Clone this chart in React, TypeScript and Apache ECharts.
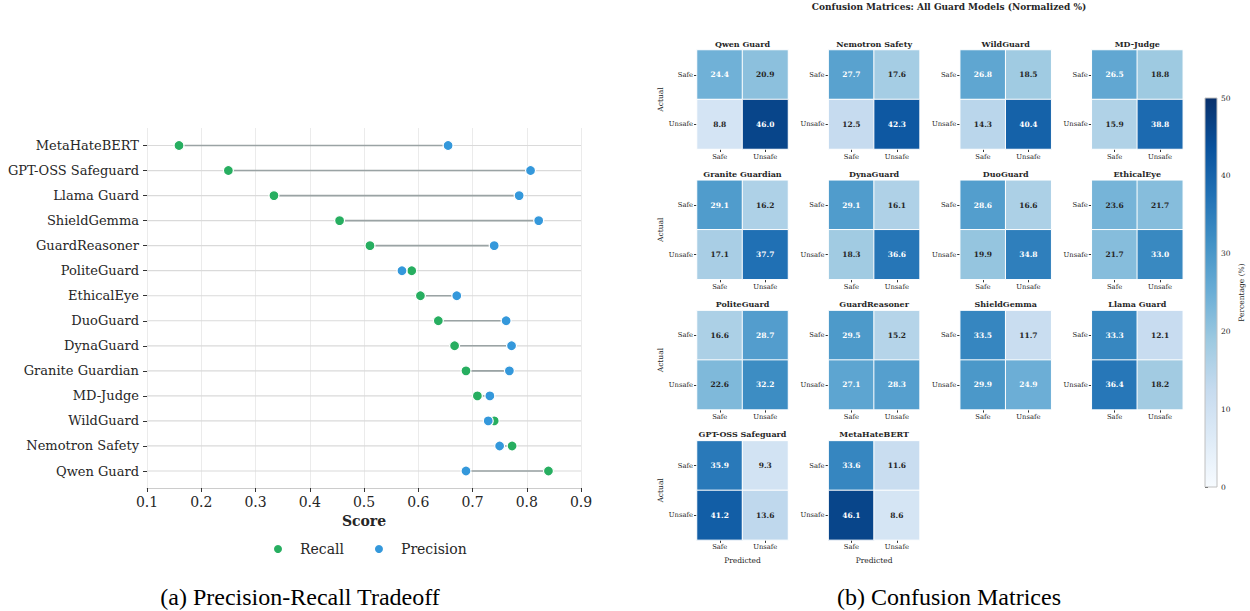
import React, { useEffect, useRef } from "react";
import * as echarts from "echarts";

// ---------- Left panel: precision / recall per model (top to bottom) ----------
const models = [
  "MetaHateBERT",
  "GPT-OSS Safeguard",
  "Llama Guard",
  "ShieldGemma",
  "GuardReasoner",
  "PoliteGuard",
  "EthicalEye",
  "DuoGuard",
  "DynaGuard",
  "Granite Guardian",
  "MD-Judge",
  "WildGuard",
  "Nemotron Safety",
  "Qwen Guard",
];
const recall = [0.159, 0.25, 0.334, 0.455, 0.511, 0.588, 0.604, 0.637, 0.667, 0.688, 0.709, 0.74, 0.773, 0.84];
const precision = [0.655, 0.807, 0.786, 0.822, 0.74, 0.57, 0.671, 0.762, 0.772, 0.768, 0.732, 0.729, 0.75, 0.688];
const scoreMin = 0.1;
const scoreMax = 0.9;
const scoreStep = 0.1;

// ---------- Right panel: confusion matrices (normalized %) ----------
const cmModels = [
  "Qwen Guard",
  "Nemotron Safety",
  "WildGuard",
  "MD-Judge",
  "Granite Guardian",
  "DynaGuard",
  "DuoGuard",
  "EthicalEye",
  "PoliteGuard",
  "GuardReasoner",
  "ShieldGemma",
  "Llama Guard",
  "GPT-OSS Safeguard",
  "MetaHateBERT",
];
// rows: Actual, columns: Predicted
const safeAsSafe = [24.4, 27.7, 26.8, 26.5, 29.1, 29.1, 28.6, 23.6, 16.6, 29.5, 33.5, 33.3, 35.9, 33.6];
const safeAsUnsafe = [20.9, 17.6, 18.5, 18.8, 16.2, 16.1, 16.6, 21.7, 28.7, 15.2, 11.7, 12.1, 9.3, 11.6];
const unsafeAsSafe = [8.8, 12.5, 14.3, 15.9, 17.1, 18.3, 19.9, 21.7, 22.6, 27.1, 29.9, 36.4, 41.2, 46.1];
const unsafeAsUnsafe = [46.0, 42.3, 40.4, 38.8, 37.7, 36.6, 34.8, 33.0, 32.2, 28.3, 24.9, 18.2, 13.6, 8.6];
const classLabels = ["Safe", "Unsafe"];
const colorbarMin = 0;
const colorbarMax = 50;
const colorbarStep = 10;

const BLUES = ["#f7fbff", "#deebf7", "#c6dbef", "#9ecae1", "#6baed6", "#4292c6", "#2171b5", "#08519c", "#08306b"];
const SERIF = "DejaVu Serif";
const TXT = "#262626";

export default function App() {
  const ref = useRef<HTMLDivElement>(null);

  useEffect(() => {
    if (!ref.current) return;
    const chart = echarts.init(ref.current, undefined, { renderer: "svg" });

    const W = 1250;
    // left panel geometry
    const plotLeft = 147;
    const plotRight = 581;
    const rowTop = 145.5;
    const rowBottom = 471;
    const band = (rowBottom - rowTop) / (models.length - 1);

    const grids: any[] = [
      { left: plotLeft, right: W - plotRight, top: rowTop - band / 2, height: band * models.length },
      { left: plotLeft, right: W - plotRight, top: 128, height: 360 },
    ];
    const xAxes: any[] = [
      { gridIndex: 0, type: "value", min: scoreMin, max: scoreMax, show: false },
      {
        gridIndex: 1,
        type: "value",
        min: scoreMin,
        max: scoreMax,
        interval: scoreStep,
        axisLine: { show: true, lineStyle: { color: "#cccccc", width: 1.2 } },
        axisTick: { show: true, length: 4, lineStyle: { color: "#333" } },
        splitLine: { show: true, lineStyle: { color: "#ebebeb", width: 1 } },
        axisLabel: {
          formatter: (v: number) => v.toFixed(1),
          fontFamily: SERIF,
          fontSize: 14,
          color: TXT,
          margin: 7,
        },
        name: "Score",
        nameLocation: "middle",
        nameGap: 23,
        nameTextStyle: { fontFamily: SERIF, fontSize: 14, fontWeight: "bold", color: TXT },
      },
    ];
    const yAxes: any[] = [
      {
        gridIndex: 0,
        type: "category",
        data: models,
        inverse: true,
        axisLine: { show: false },
        axisTick: { show: true, alignWithLabel: true, length: 4, lineStyle: { color: "#333" } },
        axisLabel: { fontFamily: SERIF, fontSize: 13, color: TXT, margin: 8 },
        splitLine: { show: false },
      },
      { gridIndex: 1, type: "value", min: 0, max: 1, show: false },
    ];

    const series: any[] = [
      {
        type: "custom",
        name: "ranges",
        xAxisIndex: 0,
        yAxisIndex: 0,
        silent: true,
        z: 1,
        encode: { x: [1, 2], y: 0 },
        data: models.map((_, i) => [i, recall[i], precision[i]]),
        renderItem: (_p: any, api: any) => {
          const y = api.value(0);
          const a = api.coord([scoreMin, y]);
          const b = api.coord([scoreMax, y]);
          const r = api.coord([api.value(1), y]);
          const p = api.coord([api.value(2), y]);
          return {
            type: "group",
            children: [
              { type: "line", shape: { x1: a[0], y1: a[1], x2: b[0], y2: b[1] }, style: { stroke: "#dadada", lineWidth: 1.2 } },
              { type: "line", shape: { x1: r[0], y1: r[1], x2: p[0], y2: p[1] }, style: { stroke: "#9aa3a4", lineWidth: 1.6 } },
            ],
          };
        },
      },
      {
        type: "scatter",
        name: "Recall",
        xAxisIndex: 0,
        yAxisIndex: 0,
        z: 3,
        symbolSize: 10,
        itemStyle: { color: "#27ae60", borderColor: "#fff", borderWidth: 1.2, opacity: 1 },
        data: models.map((_, i) => [recall[i], i]),
      },
      {
        type: "scatter",
        name: "Precision",
        xAxisIndex: 0,
        yAxisIndex: 0,
        z: 4,
        symbolSize: 10,
        itemStyle: { color: "#3498db", borderColor: "#fff", borderWidth: 1.2, opacity: 1 },
        data: models.map((_, i) => [precision[i], i]),
      },
    ];

    // right panel geometry
    const cmLeft0 = 697;
    const cmColStep = 131.6;
    const cmTop0 = 50;
    const cmRowStep = 130.3;
    const cmW = 91;
    const cmH = 99;
    const heatIdx: number[] = [];
    const graphics: any[] = [];

    cmModels.forEach((name, k) => {
      const col = k % 4;
      const row = Math.floor(k / 4);
      const left = cmLeft0 + col * cmColStep;
      const top = cmTop0 + row * cmRowStep;
      const gi = grids.length;
      grids.push({ left, top, width: cmW, height: cmH });
      xAxes.push({
        gridIndex: gi,
        type: "category",
        data: classLabels,
        axisLine: { show: false },
        axisTick: { show: true, alignWithLabel: true, length: 3, lineStyle: { color: "#333" } },
        axisLabel: { fontFamily: SERIF, fontSize: 6.8, color: TXT, margin: 4 },
        splitLine: { show: false },
        name: k >= 12 ? "Predicted" : "",
        nameLocation: "middle",
        nameGap: 17,
        nameTextStyle: { fontFamily: SERIF, fontSize: 7.5, color: TXT },
      });
      yAxes.push({
        gridIndex: gi,
        type: "category",
        data: classLabels,
        inverse: true,
        axisLine: { show: false },
        axisTick: { show: true, alignWithLabel: true, length: 3, lineStyle: { color: "#333" } },
        axisLabel: { fontFamily: SERIF, fontSize: 6.8, color: TXT, margin: 4 },
        splitLine: { show: false },
        name: col === 0 ? "Actual" : "",
        nameLocation: "middle",
        nameRotate: 90,
        nameGap: 33,
        nameTextStyle: { fontFamily: SERIF, fontSize: 7.5, color: TXT },
      });
      const vals = [
        [0, 0, safeAsSafe[k]],
        [1, 0, safeAsUnsafe[k]],
        [0, 1, unsafeAsSafe[k]],
        [1, 1, unsafeAsUnsafe[k]],
      ];
      heatIdx.push(series.length);
      series.push({
        type: "heatmap",
        name: name,
        xAxisIndex: gi,
        yAxisIndex: gi,
        itemStyle: { borderColor: "#ffffff", borderWidth: 1 },
        emphasis: { disabled: true },
        data: vals.map((v) => ({
          value: v,
          label: { color: (v[2] as number) >= 24 ? "#ffffff" : TXT },
        })),
        label: {
          show: true,
          formatter: (p: any) => (p.value[2] as number).toFixed(1),
          fontFamily: SERIF,
          fontWeight: "bold",
          fontSize: 7.5,
        },
      });
      graphics.push({
        type: "text",
        x: left + cmW / 2,
        y: top - 6.5,
        style: {
          text: name,
          fontFamily: SERIF,
          fontWeight: "bold",
          fontSize: 8,
          fill: TXT,
          align: "center",
          verticalAlign: "middle",
        },
      });
    });

    // colorbar axis
    const cbLeft = 1205;
    const cbTop = 98;
    const cbW = 12;
    const cbH = 389;
    const cbGrid = grids.length;
    grids.push({ left: cbLeft, top: cbTop, width: cbW, height: cbH });
    xAxes.push({ gridIndex: cbGrid, type: "value", show: false });
    yAxes.push({
      gridIndex: cbGrid,
      type: "value",
      position: "right",
      min: colorbarMin,
      max: colorbarMax,
      interval: colorbarStep,
      axisLine: { show: false },
      axisTick: { show: true, length: 3, lineStyle: { color: "#333" } },
      axisLabel: { fontFamily: SERIF, fontSize: 7.5, color: TXT, margin: 4 },
      splitLine: { show: false },
      name: "Percentage (%)",
      nameLocation: "middle",
      nameRotate: 90,
      nameGap: 20,
      nameTextStyle: { fontFamily: SERIF, fontSize: 7.5, color: TXT },
    });

    const stops = BLUES.map((c, i) => ({ offset: i / (BLUES.length - 1), color: c }));
    graphics.push(
      {
        type: "rect",
        z: 90,
        shape: { x: cbLeft, y: cbTop, width: cbW, height: cbH },
        style: { fill: new echarts.graphic.LinearGradient(0, 1, 0, 0, stops), stroke: "#c0c0c0", lineWidth: 1 },
        silent: true,
      },
      {
        type: "text",
        x: 949,
        y: 7,
        style: {
          text: "Confusion Matrices: All Guard Models (Normalized %)",
          fontFamily: SERIF,
          fontWeight: "bold",
          fontSize: 9,
          fill: TXT,
          align: "center",
          verticalAlign: "middle",
        },
      },
      {
        type: "text",
        x: 300,
        y: 597,
        style: {
          text: "(a) Precision-Recall Tradeoff",
          fontFamily: "Liberation Serif",
          fontSize: 24,
          fill: "#000",
          align: "center",
          verticalAlign: "middle",
        },
      },
      {
        type: "text",
        x: 949,
        y: 597,
        style: {
          text: "(b) Confusion Matrices",
          fontFamily: "Liberation Serif",
          fontSize: 24,
          fill: "#000",
          align: "center",
          verticalAlign: "middle",
        },
      }
    );

    chart.setOption({
      animation: false,
      backgroundColor: "#ffffff",
      textStyle: { fontFamily: SERIF },
      grid: grids,
      xAxis: xAxes,
      yAxis: yAxes,
      legend: {
        data: ["Recall", "Precision"],
        icon: "circle",
        itemWidth: 34,
        itemHeight: 10,
        itemGap: 29,
        left: 267,
        top: 537,
        textStyle: { fontFamily: SERIF, fontSize: 14, color: TXT },
      },
      visualMap: {
        type: "continuous",
        min: colorbarMin,
        max: colorbarMax,
        seriesIndex: heatIdx,
        dimension: 2,
        inRange: { color: BLUES },
        show: false,
      },
      graphic: graphics,
      series,
    });

    return () => chart.dispose();
  }, []);

  return (
    <div
      ref={ref}
      style={{ position: "absolute", left: 0, top: 0, width: 1250, height: 611, background: "#fff" }}
    />
  );
}
